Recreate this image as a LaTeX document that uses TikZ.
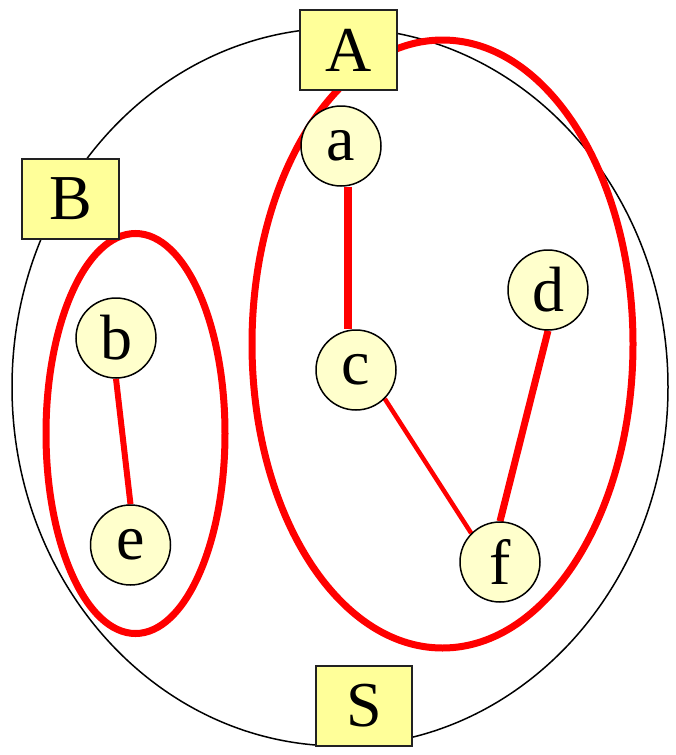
\documentclass[tikz,border=0pt]{standalone}
\usepackage{fontspec}
\setmainfont{Liberation Serif}
\usetikzlibrary{backgrounds}
\definecolor{boxfill}{HTML}{FFFF99}
\definecolor{circfill}{HTML}{FFFFCC}
\definecolor{boxline}{HTML}{222222}
\begin{document}
\begin{tikzpicture}[x=1pt,y=-1pt,
  setbox/.style={draw=boxline,line width=2pt,fill=boxfill,rectangle,minimum width=97pt,minimum height=80pt,inner sep=0pt,font=\fontsize{64}{64}\selectfont},
  vert/.style={draw=black,line width=1.5pt,fill=circfill,circle,minimum size=80pt,inner sep=0pt,font=\fontsize{64}{64}\selectfont},
  redring/.style={draw=red,line width=7pt},
  redge/.style={draw=red,line width=7pt},
  thinredge/.style={draw=red,line width=4.5pt}]
\useasboundingbox (0,0) rectangle (675,755);
% vertices
\node[vert] (a) at (341,146) {a};
\node[vert] (b) at (116,338) {b};
\node[vert] (c) at (356,370) {c};
\node[vert] (d) at (548,290) {d};
\node[vert] (e) at (130.5,545) {e};
\node[vert] (f) at (500,562) {f};
% set labels
\node[setbox] (A) at (348.5,50) {A};
\node[setbox] (B) at (70.5,199) {B};
\node[setbox,minimum width=96pt] (S) at (364,706) {S};
\begin{pgfonlayer}{background}
% outer set S
\draw[line width=1.5pt] (340,387) ellipse [x radius=328, y radius=359];
% red clusters
\draw[redring] (442.5,344) ellipse [x radius=190.5, y radius=304];
\draw[redring] (135.5,433.5) ellipse [x radius=89.5, y radius=200];
% edges
\draw[redge,line width=7.5pt] ([xshift=7pt]a.south) -- ([xshift=-8pt]c.north);
\draw[thinredge] (c.-45) -- (f.135);
\draw[redge] (d.south) -- (f.north);
\draw[redge,line width=6pt] (b.south) -- (e.north);
\end{pgfonlayer}
\end{tikzpicture}
\end{document}
